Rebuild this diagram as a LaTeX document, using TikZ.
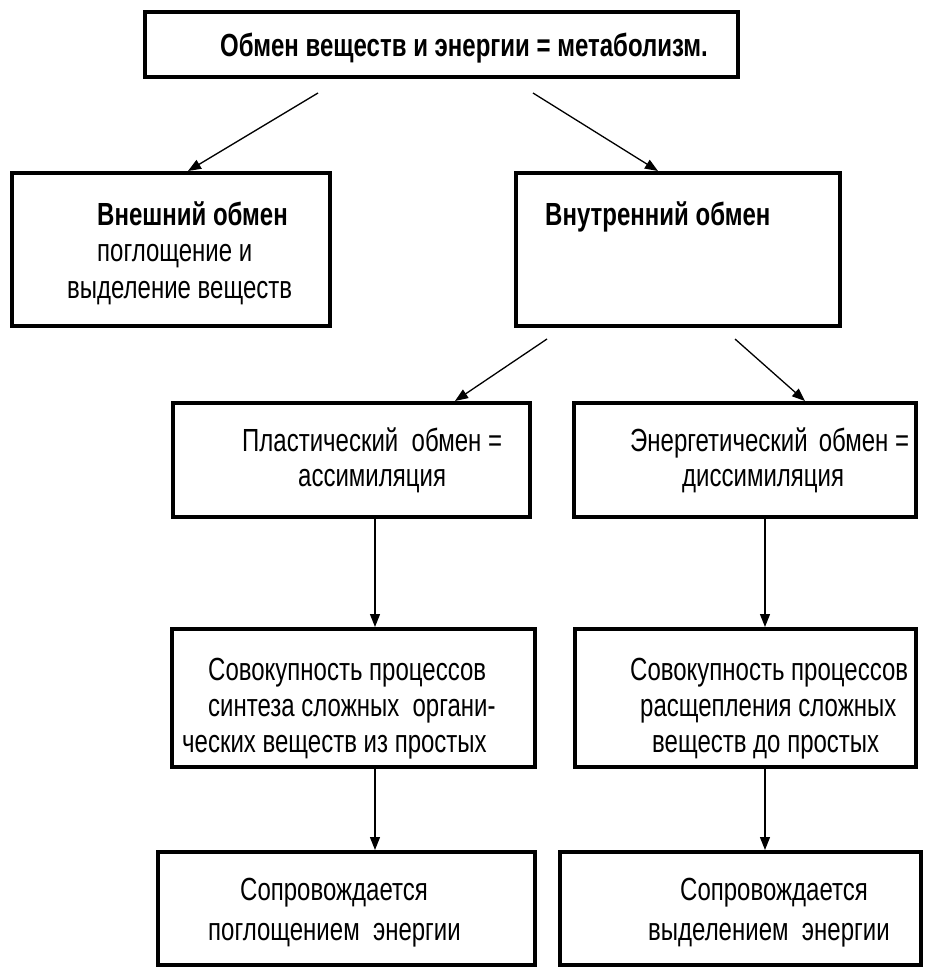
\documentclass[tikz,border=0pt]{standalone}
\usepackage{fontspec}
\setmainfont[FakeStretch=0.75]{Liberation Sans}
\usetikzlibrary{arrows.meta}
\begin{document}
\begin{tikzpicture}[x=1pt,y=-1pt,
  box/.style={draw, line width=4pt, rectangle, inner sep=0pt},
  txt/.style={font=\fontsize{32}{38}\selectfont, inner sep=0pt, anchor=base west},
  btxt/.style={font=\fontsize{32}{38}\selectfont\bfseries, inner sep=0pt, anchor=base west},
  arr/.style={line width=1.3pt, -{Triangle[length=13pt,width=10pt]}}]
\useasboundingbox[fill=white] (0,0) rectangle (935,980);
% boxes
\node[box, minimum width=593pt, minimum height=65pt] (top) at (441.5,44.5) {};
\node[box, minimum width=318pt, minimum height=153pt] (ext) at (171,249.5) {};
\node[box, minimum width=324pt, minimum height=153pt] (int) at (678,249.5) {};
\node[box, minimum width=357pt, minimum height=114pt] (pl) at (351.5,460) {};
\node[box, minimum width=342pt, minimum height=114pt] (en) at (745,460) {};
\node[box, minimum width=363pt, minimum height=138pt] (sl) at (353.5,698) {};
\node[box, minimum width=341pt, minimum height=138pt] (sr) at (745.5,698) {};
\node[box, minimum width=377pt, minimum height=113pt] (bl) at (346.5,908.5) {};
\node[box, minimum width=361pt, minimum height=113pt] (br) at (740.5,908.5) {};
% texts
\node[btxt] (t0) at (220,56) {Обмен веществ и энергии = метаболизм.};
\node[btxt] (t1) at (97,225) {Внешний обмен};
\node[txt] (t2) at (97,261) {поглощение и};
\node[txt] (t3) at (67,298) {выделение веществ};
\node[btxt] (t4) at (545,225) {Внутренний обмен};
\node[txt] (t5) at (242,451) {Пластический~~обмен =};
\node[txt] (t6) at (298,486) {ассимиляция};
\node[txt] (t7) at (630,451) {Энергетический\hspace{11pt}обмен =};
\node[txt] (t8) at (682,486) {диссимиляция};
\node[txt] (t9) at (208,680) {Совокупность процессов};
\node[txt] (t10) at (208,716) {синтеза сложных~~органи-};
\node[txt] (t11) at (182,752) {ческих веществ из простых};
\node[txt] (t12) at (630,680) {Совокупность процессов};
\node[txt] (t13) at (640,716) {расщепления сложных};
\node[txt] (t14) at (652,752) {веществ до простых};
\node[txt] (t15) at (240,900) {Сопровождается};
\node[txt] (t16) at (208,940) {поглощением~~энергии};
\node[txt] (t17) at (680,900) {Сопровождается};
\node[txt] (t18) at (648,940) {выделением~~энергии};
% arrows
\draw[arr] ([xshift=-123.5pt,yshift=-14pt]top.south) -- ([xshift=17pt]ext.north);
\draw[arr] ([xshift=91.5pt,yshift=-14pt]top.south) -- ([xshift=-20pt]int.north);
\draw[arr] ([xshift=-131pt,yshift=-11pt]int.south) -- ([xshift=103.5pt]pl.north);
\draw[arr] ([xshift=57pt,yshift=-11pt]int.south) -- ([xshift=60pt]en.north);
\draw[arr] ([xshift=23.5pt]pl.south) -- ([xshift=21.5pt]sl.north);
\draw[arr] ([xshift=20pt]en.south) -- ([xshift=19.5pt]sr.north);
\draw[arr] ([xshift=21.5pt]sl.south) -- ([xshift=28.5pt]bl.north);
\draw[arr] ([xshift=19.5pt]sr.south) -- ([xshift=24.5pt]br.north);
\end{tikzpicture}
\end{document}
